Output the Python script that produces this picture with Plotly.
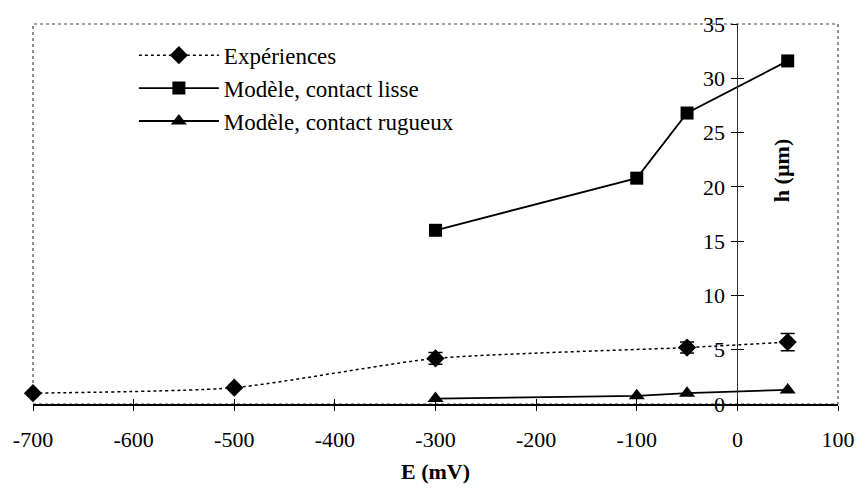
import plotly.graph_objects as go

# Potential E (mV) and film thickness h (µm)
exp_E = [-700, -500, -300, -50, 50]
exp_h = [1.0, 1.5, 4.2, 5.2, 5.7]
exp_err = [0.0, 0.0, 0.55, 0.5, 0.8]

lisse_E = [-300, -100, -50, 50]
lisse_h = [16.0, 20.8, 26.8, 31.6]

rugueux_E = [-300, -100, -50, 50]
rugueux_h = [0.5, 0.75, 1.0, 1.3]

x_ticks = [-700, -600, -500, -400, -300, -200, -100, 0, 100]
y_ticks = [0, 5, 10, 15, 20, 25, 30, 35]

FONT = "Liberation Serif, Times New Roman, serif"
X_RANGE = [-700, 100]
Y_RANGE = [0, 35]
y_axis_pos = (0 - X_RANGE[0]) / (X_RANGE[1] - X_RANGE[0])

fig = go.Figure()

fig.add_trace(go.Scatter(
    x=exp_E, y=exp_h, name="Expériences", mode="lines+markers",
    line=dict(color="black", width=1.5, dash="dot", shape="spline", smoothing=0.6),
    marker=dict(symbol="diamond", size=14, color="black"),
    error_y=dict(type="data", array=exp_err, symmetric=True,
                 color="black", thickness=1.5, width=7),
    legendgroup="a", cliponaxis=False,
))
fig.add_trace(go.Scatter(
    x=lisse_E, y=lisse_h, name="Modèle, contact lisse", mode="lines+markers",
    line=dict(color="black", width=1.8),
    marker=dict(symbol="square", size=13, color="black"),
    legendgroup="b", cliponaxis=False,
))
fig.add_trace(go.Scatter(
    x=rugueux_E, y=rugueux_h, name="Modèle, contact rugueux", mode="lines+markers",
    line=dict(color="black", width=1.8),
    marker=dict(symbol="triangle-up", size=14, color="black"),
    legendgroup="c", cliponaxis=False,
))

fig.update_layout(
    width=867, height=498,
    margin=dict(l=33, r=20, t=15, b=94),
    paper_bgcolor="white", plot_bgcolor="white",
    font=dict(family=FONT, size=22, color="black"),
    showlegend=True,
    legend=dict(
        x=(135 - 33) / 814, y=1 - (25 - 15) / 389,
        xanchor="left", yanchor="top",
        bgcolor="rgba(0,0,0,0)", borderwidth=0,
        font=dict(family=FONT, size=23, color="black"),
        tracegroupgap=0, itemwidth=80,
    ),
    xaxis=dict(
        range=X_RANGE, tickvals=x_ticks, ticktext=[str(v) for v in x_ticks],
        showgrid=False, zeroline=False,
        showline=True, linecolor="black", linewidth=1.5,
        ticks="outside", ticklen=5, tickcolor="black",
        ticklabelstandoff=10,
        tickfont=dict(family=FONT, size=22),
    ),
    yaxis=dict(
        range=Y_RANGE, tickvals=y_ticks,
        showgrid=False, zeroline=False,
        anchor="free", position=y_axis_pos,
        showline=True, linecolor="#333333", linewidth=1,
        ticks="outside", ticklen=6, tickcolor="black",
        ticklabelstandoff=2,
        tickfont=dict(family=FONT, size=22),
    ),
    xaxis2=dict(
        range=X_RANGE, overlaying="x", anchor="y", side="bottom",
        tickvals=x_ticks, showticklabels=False, showgrid=False, zeroline=False,
        ticks="inside", ticklen=5, tickcolor="black",
    ),
    yaxis2=dict(
        range=Y_RANGE, overlaying="y", anchor="free", position=y_axis_pos,
        tickvals=y_ticks, showticklabels=False, showgrid=False, zeroline=False,
        ticks="inside", ticklen=6, tickcolor="black",
    ),
    shapes=[dict(
        type="rect", xref="paper", yref="paper", x0=0, x1=1, y0=0, y1=1,
        line=dict(color="#444444", width=1.2, dash="dot"),
        layer="below",
    )],
    annotations=[
        dict(text="<b>E (mV)</b>", xref="paper", yref="paper",
             x=(440 - 33) / 814, y=1 - (473 - 15) / 389,
             xanchor="center", yanchor="middle", showarrow=False,
             font=dict(family=FONT, size=22)),
        dict(text="<b>h (µm)</b>", xref="paper", yref="paper",
             x=(790 - 33) / 814, y=1 - (165 - 15) / 389,
             xanchor="center", yanchor="middle", showarrow=False,
             textangle=-90, font=dict(family=FONT, size=22)),
    ],
)

# A hidden trace on the overlay axes so both sides of the tick marks are drawn
fig.add_trace(go.Scatter(x=[None], y=[None], xaxis="x2", yaxis="y2",
                         showlegend=False, hoverinfo="skip"))

fig.write_html("out.html")
